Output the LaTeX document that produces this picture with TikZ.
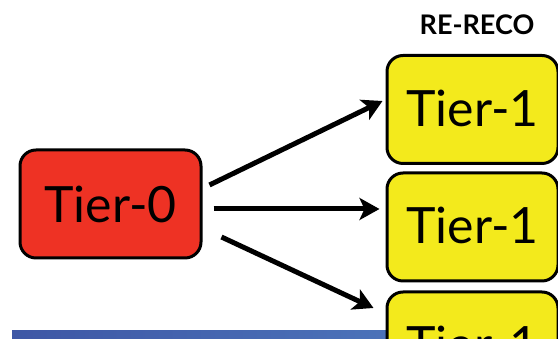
\documentclass[tikz,border=0pt]{standalone}
\usepackage{fontspec}
\setmainfont{Lato}
\usetikzlibrary{arrows.meta}
\definecolor{tred}{HTML}{EE3224}
\definecolor{tyel}{HTML}{F3EA1C}
\definecolor{bandL}{HTML}{3E57A5}
\definecolor{bandR}{HTML}{4B72B9}
\newcommand{\tlab}[1]{\raisebox{3pt}{#1}}
\begin{document}
\begin{tikzpicture}[x=1pt,y=1pt,
  tbox/.style={draw=black,line width=3pt,rounded corners=16pt,minimum height=108pt,inner sep=0pt,font=\fontsize{50}{50}\selectfont},
  arr/.style={line width=5pt,-{Stealth[length=20pt,width=22pt,inset=5pt]}}]
\useasboundingbox (0,0) rectangle (558,339);
\clip (0,0) rectangle (558,339);
\shade[left color=bandL,right color=bandR] (12,0) rectangle (390,8);
\node[tbox,fill=tred,minimum width=181pt] (t0) at (110.5,135) {Tier-0};
\node[tbox,fill=tyel,minimum width=171pt] (b1) at (472.5,229.5) {\tlab{Tier-1}};
\node[tbox,fill=tyel,minimum width=171pt] (b2) at (472.5,112) {\tlab{Tier-1}};
\node[tbox,fill=tyel,minimum width=171pt] (b3) at (472.5,-7) {\tlab{Tier-1}};
\node[font=\fontsize{27}{27}\selectfont\bfseries] (rr) at (477,314) {RE-RECO};
\draw[arr] ([xshift=7pt,yshift=19pt]t0.east) -- ([xshift=-3pt,yshift=8.5pt]b1.west);
\draw[arr] ([xshift=11pt,yshift=-5pt]t0.east) -- ([xshift=-6pt,yshift=18pt]b2.west);
\draw[arr] ([xshift=19pt,yshift=-33pt]t0.east) -- ([xshift=-12pt,yshift=38pt]b3.west);
\end{tikzpicture}
\end{document}
